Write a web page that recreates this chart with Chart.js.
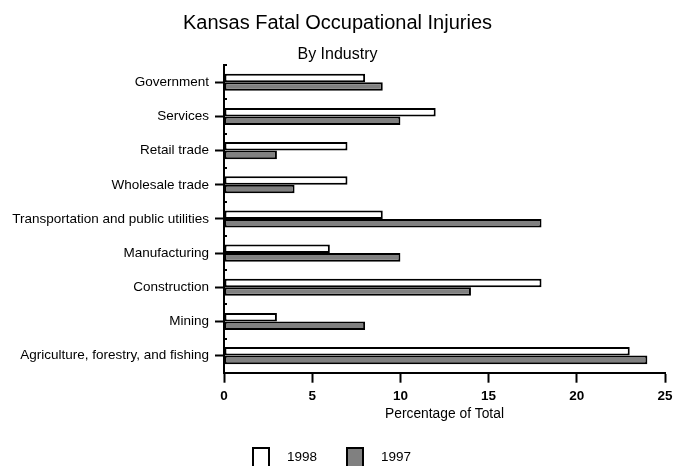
<!DOCTYPE html>
<html>
<head>
<meta charset="utf-8">
<script src="https://cdn.jsdelivr.net/npm/chart.js@4"></script>
<style>
  html, body { margin: 0; padding: 0; background: #fff; overflow: hidden; }
  #wrap { position: relative; width: 673px; height: 466px; }
  #legend {
    position: absolute; left: 252px; top: 447px;
    display: flex; align-items: flex-start;
    font: 13.5px Arial, "Liberation Sans", Helvetica, sans-serif; color: #000;
  }
  #legend .item { display: flex; align-items: flex-start; margin-right: 29px; }
  #legend .box { width: 14px; height: 22px; border: 2px solid #000; margin-right: 17px; }
  #legend .txt { line-height: 20px; }
</style>
</head>
<body>
<div id="wrap">
  <canvas id="injuryChart"></canvas>
  <div id="legend"></div>
</div>
<script>
// Industries from top to bottom, as listed in the chart
const industries = [
  "Government",
  "Services",
  "Retail trade",
  "Wholesale trade",
  "Transportation and public utilities",
  "Manufacturing",
  "Construction",
  "Mining",
  "Agriculture, forestry, and fishing"
];
const share1998 = [8, 12, 7, 7, 9, 6, 18, 3, 23];
const share1997 = [9, 10, 3, 4, 18, 10, 14, 8, 24];
const xTicks = [0, 5, 10, 15, 20, 25];

const FONT = "Arial, 'Liberation Sans', Helvetica, sans-serif";
Chart.defaults.font.family = FONT;
Chart.defaults.color = "#000";

const PAD_LEFT = 2;
const AXIS_LEFT = 224; // where the value axis starts in the original

// little marks on the inside of the y axis, between two categories
const categoryMarks = {
  id: "categoryMarks",
  afterDatasetsDraw(chart) {
    const y = chart.scales.y;
    const x = chart.scales.x;
    const half = (y.getPixelForValue(1) - y.getPixelForValue(0)) / 2;
    const ctx = chart.ctx;
    ctx.save();
    ctx.strokeStyle = "#000";
    ctx.lineWidth = 2;
    for (let i = 0; i < industries.length; i++) {
      const yy = Math.round(y.getPixelForValue(i) - half);
      ctx.beginPath();
      ctx.moveTo(x.left, yy);
      ctx.lineTo(x.left + 3, yy);
      ctx.stroke();
    }
    ctx.restore();
  }
};

const chart = new Chart(document.getElementById("injuryChart").getContext("2d"), {
  type: "bar",
  data: {
    labels: industries,
    datasets: [
      {
        label: "1998",
        data: share1998,
        backgroundColor: "#ffffff",
        borderColor: "#000",
        borderWidth: 2,
        borderSkipped: false
      },
      {
        label: "1997",
        data: share1997,
        backgroundColor: "#808080",
        borderColor: "#000",
        borderWidth: 2,
        borderSkipped: false
      }
    ]
  },
  options: {
    indexAxis: "y",
    responsive: true,
    maintainAspectRatio: false,
    animation: false,
    categoryPercentage: 0.5,
    barPercentage: 1.0,
    layout: { padding: { left: PAD_LEFT, right: 0, top: 0, bottom: 45 } },
    scales: {
      x: {
        min: 0,
        max: 25,
        afterBuildTicks: (scale) => { scale.ticks = xTicks.map(v => ({ value: v })); },
        afterFit: (scale) => { scale.paddingLeft = 0; scale.paddingRight = 8; },
        border: { color: "#000", width: 2 },
        grid: { drawOnChartArea: false, tickLength: 10, tickWidth: 2, tickColor: "#000" },
        ticks: { padding: 7, font: { size: 13.5, weight: "bold", lineHeight: 1 } },
        title: {
          display: true,
          text: "Percentage of Total",
          font: { size: 13.8, lineHeight: 1 },
          padding: { top: -3, bottom: 0 }
        }
      },
      y: {
        afterFit: (scale) => { scale.width = AXIS_LEFT - PAD_LEFT; },
        border: { color: "#000", width: 2 },
        grid: { offset: false, drawOnChartArea: false, tickLength: 9, tickWidth: 2, tickColor: "#000" },
        ticks: { padding: 6, font: { size: 13.5 } }
      }
    },
    plugins: {
      title: {
        display: true,
        text: "Kansas Fatal Occupational Injuries",
        font: { size: 20, weight: "normal" },
        padding: { top: 11, bottom: 4 }
      },
      subtitle: {
        display: true,
        text: "By Industry",
        font: { size: 16 },
        padding: { top: 6, bottom: 1 }
      },
      legend: { display: false },
      tooltip: { enabled: false }
    }
  },
  plugins: [categoryMarks]
});

// legend under the chart, built from the datasets
const legendEl = document.getElementById("legend");
chart.data.datasets.forEach(ds => {
  const item = document.createElement("div");
  item.className = "item";
  item.innerHTML = `<span class="box" style="background:${ds.backgroundColor}"></span><span class="txt">${ds.label}</span>`;
  legendEl.appendChild(item);
});
</script>
</body>
</html>
